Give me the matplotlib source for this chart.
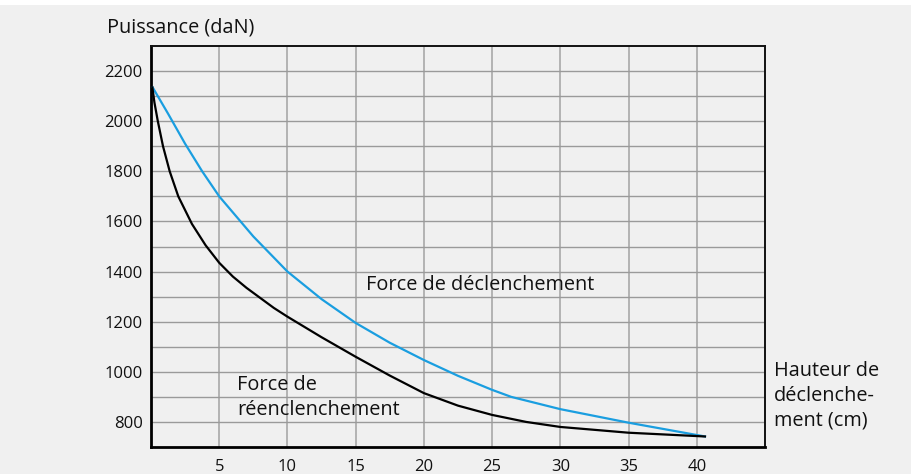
import matplotlib
matplotlib.use("Agg")
import matplotlib.pyplot as plt
from matplotlib.patches import Rectangle
from matplotlib.ticker import FixedLocator

plt.rcParams['font.family'] = ['Open Sans', 'DejaVu Sans']

# Data
x_decl = [0.12, 1.25, 2.5, 3.75, 5, 7.5, 10, 12.5, 15, 17.5, 20, 22.5, 25, 26.4, 30, 35, 40.6]
y_decl = [2135, 2030, 1910, 1800, 1700, 1540, 1400, 1290, 1195, 1116, 1047, 984, 928, 900, 851, 797, 742]

x_reen = [0.1, 0.25, 0.5, 0.88, 1.37, 2, 3, 4, 5, 6, 7, 8, 9, 10, 12.5, 15, 17.5, 20, 22.5, 25, 27.5, 30, 35, 40.6]
y_reen = [2135, 2075, 2000, 1900, 1800, 1700, 1590, 1505, 1435, 1380, 1335, 1295, 1255, 1220,
          1138, 1060, 985, 915, 865, 828, 800, 780, 757, 742]

x_ticks = [5, 10, 15, 20, 25, 30, 35, 40]
y_ticks = [800, 1000, 1200, 1400, 1600, 1800, 2000, 2200]
y_grid = list(range(800, 2201, 100))

BG = '#f0f0f0'
W, H = 915, 474
fig = plt.figure(figsize=(W / 100, H / 100), dpi=100, facecolor='white')
fig.patches.append(Rectangle((0, 0), 911 / W, (H - 5) / H, transform=fig.transFigure,
                             facecolor=BG, edgecolor='none', zorder=-10))

ax = fig.add_axes([151 / W, (H - 447) / H, (765 - 151) / W, (447 - 46) / H])
ax.set_facecolor(BG)
ax.set_xlim(0, 45)
ax.set_ylim(700, 2300)

ax.xaxis.set_major_locator(FixedLocator(x_ticks))
ax.yaxis.set_major_locator(FixedLocator(y_ticks))
ax.yaxis.set_minor_locator(FixedLocator(y_grid))
ax.grid(True, which='both', axis='y', color='#9a9a9a', lw=1.0, zorder=0)
ax.grid(True, which='major', axis='x', color='#a8a8a8', lw=1.2, zorder=0)
ax.tick_params(which='both', length=0)
ax.tick_params(axis='x', pad=8.5, labelsize=12, colors='#111111')
ax.tick_params(axis='y', pad=6, labelsize=12, colors='#111111')

for s in ['left', 'bottom']:
    ax.spines[s].set_linewidth(2.0)
    ax.spines[s].set_color('black')
for s in ['top', 'right']:
    ax.spines[s].set_linewidth(1.4)
    ax.spines[s].set_color('#111111')

ax.plot(x_decl, y_decl, color='#1a9ee0', lw=1.6, zorder=3, solid_joinstyle='round')
ax.plot(x_reen, y_reen, color='black', lw=1.6, zorder=3, solid_joinstyle='round')

ax.text(15.75, 1348, 'Force de déclenchement', fontsize=14.3, va='center', ha='left', color='#111111')
ax.text(6.3, 896, 'Force de\nréenclenchement', fontsize=14.3, va='center', ha='left',
        linespacing=1.32, color='#111111')

fig.text(107 / W, 1 - 27 / H, 'Puissance (daN)', fontsize=14.3, va='center', ha='left', color='#111111')
fig.text(774 / W, 1 - 396 / H, 'Hauteur de\ndéclenche-\nment (cm)', fontsize=14.3,
         va='center', ha='left', linespacing=1.3, color='#111111')

fig.savefig('out.png', dpi=100, facecolor='white')
